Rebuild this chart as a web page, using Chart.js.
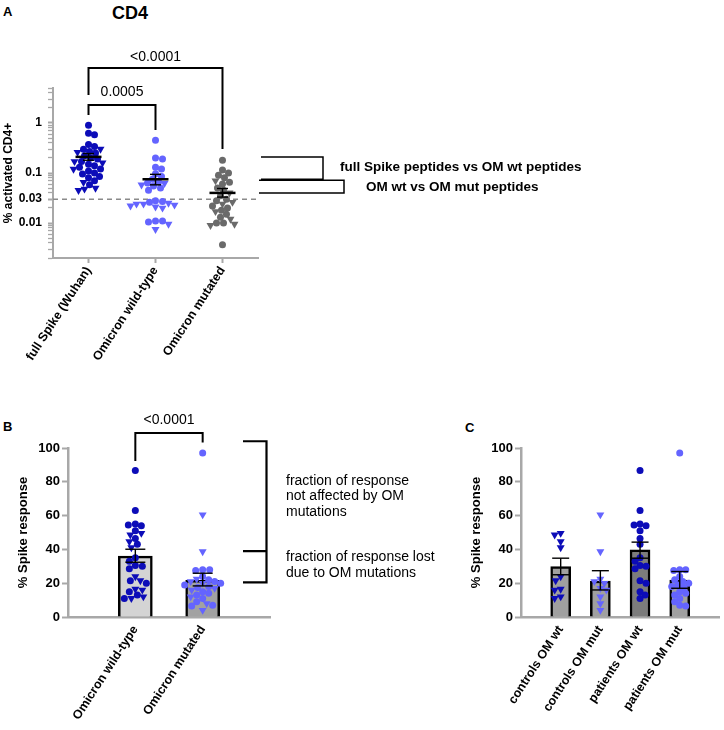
<!DOCTYPE html>
<html>
<head>
<meta charset="utf-8">
<script src="https://cdn.jsdelivr.net/npm/chart.js@4/dist/chart.umd.min.js"></script>
<style>
  body { margin: 0; background: #fff; width: 724px; height: 730px; position: relative; overflow: hidden;
         font-family: 'Liberation Sans', Arial, sans-serif; }
  canvas { position: absolute; }
  .lbl { position: absolute; font-weight: bold; line-height: 1; }
</style>
</head>
<body>
<div class="lbl" style="left:3px;top:5px;font-size:13px">A</div>
<div class="lbl" style="left:112px;top:4px;font-size:18px">CD4</div>
<div class="lbl" style="left:3px;top:420px;font-size:13px">B</div>
<div class="lbl" style="left:465px;top:421px;font-size:13px">C</div>
<canvas id="chartA" width="600" height="400" style="left:0;top:0"></canvas>
<canvas id="chartB" width="440" height="330" style="left:0;top:400px"></canvas>
<canvas id="chartC" width="284" height="330" style="left:440px;top:400px"></canvas>
<script>
// ---- panel A : % activated CD4+ (log scale) ----
const A_categories = ['full Spike (Wuhan)', 'Omicron wild-type', 'Omicron mutated'];
const A_spikeCircles = [0.9, 0.62, 0.58, 0.37, 0.34, 0.3, 0.27, 0.25, 0.22, 0.2, 0.19, 0.17, 0.15, 0.14, 0.13, 0.12, 0.11, 0.1, 0.095, 0.085, 0.08, 0.07, 0.058];
const A_spikeTriangles = [0.3, 0.26, 0.17, 0.16, 0.12, 0.065, 0.05, 0.048, 0.045];
const A_wtCircles = [0.45, 0.2, 0.19, 0.13, 0.12, 0.097, 0.085, 0.075, 0.066, 0.063, 0.055, 0.05, 0.045, 0.028, 0.027, 0.026, 0.011, 0.011, 0.0105];
const A_wtTriangles = [0.062, 0.058, 0.025, 0.024, 0.024, 0.023, 0.022, 0.021, 0.02, 0.0095, 0.0075];
const A_mutCircles = [0.18, 0.115, 0.1, 0.09, 0.08, 0.065, 0.06, 0.05, 0.045, 0.035, 0.03, 0.028, 0.022, 0.02, 0.018, 0.015, 0.013, 0.01, 0.01, 0.0037];
const A_mutTriangles = [0.07, 0.04, 0.026, 0.024, 0.017, 0.012, 0.0095, 0.009];
const A_means = [0.21, 0.075, 0.04];
const A_semLow = [0.18, 0.058, 0.033];
const A_semHigh = [0.245, 0.094, 0.049];
const A_tickLabels = [0.01, 0.03, 0.1, 1];
const A_threshold = 0.03;
const A_pValues = ['0.0005', '<0.0001'];
const A_legend = ['full Spike peptides vs OM wt peptides', 'OM wt vs OM mut peptides'];

// ---- panels B and C : % Spike response ----
const B_categories = ['Omicron wild-type', 'Omicron mutated'];
const C_categories = ['controls OM wt', 'controls OM mut', 'patients OM wt', 'patients OM mut'];
const ctrlWt = [49.6, 48.6, 44.6, 41.1, 23.9, 21.5, 16.5, 16, 12, 11];           // triangles
const patWt = [86.7, 63, 55, 54.5, 54, 51, 46.5, 43, 35, 33, 30.5, 30, 28.5, 21.5, 20, 15, 13, 11]; // circles
const ctrlMut = [60.5, 38.7, 22.5, 21, 20, 17, 16, 12, 8, 4];
const patMut = [97, 28, 28, 27.5, 24, 22, 21, 20, 19, 18, 17.5, 15, 14, 13, 11, 9, 7, 6.5];
const B_means = [36, 21.7];
const B_semLow = [32.4, 18.4];
const B_semHigh = [40.1, 25.9];
const B_pValue = '<0.0001';
const B_fractionLevels = [104, 39, 20.5];
const B_notes = [['fraction of response', 'not affected by OM', 'mutations'], ['fraction of response lost', 'due to OM mutations']];
const C_means = [29.8, 21.3, 39.7, 21.9];
const C_semLow = [25, 16, 34.8, 17];
const C_semHigh = [34.8, 27.4, 44.3, 26.9];

const DARK = '#0c0cb8', LIGHT = '#6464ff', GREY = '#6a6a6a', AXIS = '#a8a8a8';
const FONT = "'Liberation Sans', Arial, sans-serif";

Chart.defaults.font.family = FONT;
Chart.defaults.color = '#000';
Chart.defaults.animation = false;
Chart.defaults.plugins.legend.display = false;
Chart.defaults.plugins.tooltip.enabled = false;

function pts(values, x) { return values.map(v => ({ x: x, y: v })); }

function scatterSet(values, x, color, shape) {
  return {
    type: 'scatter', data: pts(values, x), backgroundColor: color, borderWidth: 0,
    pointStyle: shape === 't' ? 'triangle' : 'circle',
    pointRotation: shape === 't' ? 180 : 0,
    pointRadius: shape === 't' ? 4.6 : 3.5, order: 0
  };
}

// spread points of one column sideways so they do not sit on top of each other
function swarm(chart, sets, center, radius) {
  const xs = chart.scales.x, ys = chart.scales.y;
  const unit = xs.getPixelForValue(1) - xs.getPixelForValue(0);
  const minD = 2 * radius * 0.85;
  const all = [];
  sets.forEach(ds => ds.data.forEach(p => all.push({ p, py: ys.getPixelForValue(p.y) })));
  all.sort((a, b) => a.py - b.py);
  const placed = [];
  all.forEach((o, k) => {
    let dx = 0;
    for (let s = 0; s < 400; s++) {
      const c = s === 0 ? 0 : ((s + k) % 2 ? 1 : -1) * Math.ceil(s / 2);
      if (placed.every(q => (q.dx - c) ** 2 + (q.py - o.py) ** 2 >= minD * minD)) { dx = c; break; }
    }
    placed.push({ dx, py: o.py });
    o.p.x = center + dx / unit;
  });
}

function line(ctx, x1, y1, x2, y2) { ctx.beginPath(); ctx.moveTo(x1, y1); ctx.lineTo(x2, y2); ctx.stroke(); }

function whiskers(chart, centers, means, lo, hi, cap, meanW, meanLw) {
  const { ctx, scales: { x, y } } = chart;
  ctx.save();
  ctx.strokeStyle = '#000';
  means.forEach((m, i) => {
    const cx = x.getPixelForValue(centers[i]);
    ctx.lineWidth = 1.4;
    line(ctx, cx, y.getPixelForValue(lo[i]), cx, y.getPixelForValue(hi[i]));
    line(ctx, cx - cap / 2, y.getPixelForValue(lo[i]), cx + cap / 2, y.getPixelForValue(lo[i]));
    line(ctx, cx - cap / 2, y.getPixelForValue(hi[i]), cx + cap / 2, y.getPixelForValue(hi[i]));
    if (meanW) {
      ctx.lineWidth = meanLw;
      line(ctx, cx - meanW / 2, y.getPixelForValue(m), cx + meanW / 2, y.getPixelForValue(m));
    }
  });
  ctx.restore();
}

function bracket(ctx, x1, x2, yTop, y1, y2) {
  ctx.beginPath();
  ctx.moveTo(x1, y1); ctx.lineTo(x1, yTop); ctx.lineTo(x2, yTop); ctx.lineTo(x2, y2);
  ctx.stroke();
}

// ================= chart A =================
const aOverlay = {
  id: 'aOverlay',
  beforeDatasetsDraw(chart) {
    const { ctx, chartArea, scales: { y } } = chart;
    const py = y.getPixelForValue(A_threshold);
    ctx.save();
    ctx.strokeStyle = '#8a8a8a'; ctx.lineWidth = 1.5; ctx.setLineDash([5, 4]);
    line(ctx, chartArea.left, py, chartArea.right, py);
    ctx.restore();
  },
  afterDatasetsDraw(chart) {
    whiskers(chart, [0, 1, 2], A_means, A_semLow, A_semHigh, 11, 26, 2.5);
    const { ctx, chartArea, scales: { x, y } } = chart;
    const t = chartArea.top, r = chartArea.right;
    const x0 = x.getPixelForValue(0), x1 = x.getPixelForValue(1), x2 = x.getPixelForValue(2);
    ctx.save();
    ctx.strokeStyle = '#000'; ctx.lineWidth = 2;
    bracket(ctx, x0, x1, t + 17, t + 27, t + 42);
    bracket(ctx, x0, x2, t - 20, t + 7, t + 61);
    ctx.fillStyle = '#000'; ctx.textAlign = 'center'; ctx.textBaseline = 'middle';
    ctx.font = '14px ' + FONT;
    ctx.fillText(A_pValues[0], (x0 + x1) / 2, t + 4);
    ctx.fillText(A_pValues[1], (x0 + x2) / 2, t - 31);
    // comparison brackets at the group means
    const m = A_means.map(v => y.getPixelForValue(v));
    ctx.lineWidth = 1.5;
    ctx.beginPath();
    ctx.moveTo(r + 3, m[0]); ctx.lineTo(r + 65, m[0]); ctx.lineTo(r + 65, m[1]); ctx.lineTo(r + 3, m[1]);
    ctx.moveTo(r + 1, m[1] + 1); ctx.lineTo(r + 86, m[1] + 1); ctx.lineTo(r + 86, m[2]); ctx.lineTo(r + 1, m[2]);
    ctx.stroke();
    ctx.textAlign = 'left';
    ctx.font = 'bold 13.5px ' + FONT;
    ctx.fillText(A_legend[0], r + 82, (m[0] + m[1]) / 2 - 1);
    ctx.fillText(A_legend[1], r + 108, (m[1] + m[2]) / 2 + 1);
    ctx.restore();
  }
};

function logTicks(min, max) {
  const out = [];
  for (let d = 0.001; d <= 10; d *= 10) {
    for (let k = 1; k <= 9; k++) {
      const v = +(k * d).toPrecision(3);
      if (v >= min && v <= max) out.push({ value: v });
    }
  }
  return out;
}

const chartA = new Chart(document.getElementById('chartA'), {
  type: 'scatter',
  data: {
    datasets: [
      scatterSet(A_spikeCircles, 0, DARK, 'c'), scatterSet(A_spikeTriangles, 0, DARK, 't'),
      scatterSet(A_wtCircles, 1, LIGHT, 'c'), scatterSet(A_wtTriangles, 1, LIGHT, 't'),
      scatterSet(A_mutCircles, 2, GREY, 'c'), scatterSet(A_mutTriangles, 2, GREY, 't')
    ]
  },
  options: {
    responsive: false, devicePixelRatio: 1,
    layout: { padding: { left: 0, top: 88, right: 342, bottom: 0 } },
    scales: {
      x: {
        type: 'linear', min: -0.53, max: 2.53, offset: false,
        afterBuildTicks: s => { s.ticks = A_categories.map((_, i) => ({ value: i })); },
        afterFit: s => { s.height = 142; },
        ticks: { callback: v => A_categories[v], font: { size: 12.5, weight: 'bold' },
                 minRotation: 57, maxRotation: 57, autoSkip: false, padding: 1 },
        grid: { drawOnChartArea: false, tickLength: 5, tickColor: AXIS, tickWidth: 2 },
        border: { color: AXIS, width: 2 }
      },
      y: {
        type: 'logarithmic', min: 0.002, max: 5,
        afterBuildTicks: s => { s.ticks = logTicks(0.002, 5); },
        afterFit: s => { s.width = 53; },
        ticks: { callback: v => (A_tickLabels.includes(v) ? String(v) : ''),
                 font: { size: 12, weight: 'bold' }, padding: 6, autoSkip: false },
        grid: { drawOnChartArea: false, tickLength: 5, tickColor: AXIS,
                tickWidth: c => (A_tickLabels.includes(c.tick.value) ? 2 : 1.3) },
        border: { color: AXIS, width: 2 },
        title: { display: true, text: '% activated CD4+', font: { size: 12, weight: 'bold' },
                 padding: { top: 1, bottom: 0 } }
      }
    }
  },
  plugins: [aOverlay]
});
swarm(chartA, chartA.data.datasets.slice(0, 2), 0, 3.6);
swarm(chartA, chartA.data.datasets.slice(2, 4), 1, 3.6);
swarm(chartA, chartA.data.datasets.slice(4, 6), 2, 3.6);
chartA.update('none');

// ================= chart B =================
const bOverlay = {
  id: 'bOverlay',
  afterDatasetsDraw(chart) {
    whiskers(chart, [1, 2], B_means, B_semLow, B_semHigh, 20, 0, 0);
    const { ctx, chartArea, scales: { x, y } } = chart;
    const t = chartArea.top;
    const x1 = x.getPixelForValue(1), x2 = x.getPixelForValue(2);
    ctx.save();
    ctx.strokeStyle = '#000'; ctx.lineWidth = 2;
    bracket(ctx, x1, x2, t - 15, t + 13, t - 5.5);
    ctx.fillStyle = '#000'; ctx.textAlign = 'center'; ctx.textBaseline = 'middle';
    ctx.font = '14px ' + FONT;
    ctx.fillText(B_pValue, (x1 + x2) / 2, t - 27.5);
    // fraction bracket
    const lv = B_fractionLevels.map(v => y.getPixelForValue(v));
    const bx1 = 243, bx2 = 266.5;
    ctx.lineWidth = 2.2;
    ctx.beginPath();
    ctx.moveTo(bx1, lv[0]); ctx.lineTo(bx2, lv[0]); ctx.lineTo(bx2, lv[2]); ctx.lineTo(bx1, lv[2]);
    ctx.moveTo(bx1, lv[1]); ctx.lineTo(bx2, lv[1]);
    ctx.stroke();
    ctx.textAlign = 'left';
    ctx.font = '14px ' + FONT;
    B_notes[0].forEach((s, i) => ctx.fillText(s, 286, 81 + i * 15.5));
    B_notes[1].forEach((s, i) => ctx.fillText(s, 286, 157.5 + i * 16));
    ctx.restore();
  }
};

const spikeY = {
  min: 0, max: 100,
  ticks: { stepSize: 20, font: { size: 13, weight: 'bold' }, padding: 2 },
  grid: { drawOnChartArea: false, tickLength: 6, tickColor: AXIS, tickWidth: 2 },
  border: { color: AXIS, width: 2.5 },
  title: { display: true, text: '% Spike response', font: { size: 13, weight: 'bold' } }
};

function catX(labels, max) {
  return {
    type: 'linear', min: 0, max: max, offset: false,
    afterBuildTicks: s => { s.ticks = labels.map((_, i) => ({ value: i + 1 })); },
    afterFit: s => { s.height = 113; },
    ticks: { callback: v => labels[v - 1], font: { size: 12.5, weight: 'bold' },
             minRotation: 57, maxRotation: 57, autoSkip: false, padding: 6 },
    grid: { drawOnChartArea: false, drawTicks: false, offset: false },
    border: { color: AXIS, width: 2.5 }
  };
}

const chartB = new Chart(document.getElementById('chartB'), {
  type: 'bar',
  data: {
    datasets: [
      scatterSet(ctrlWt, 1, DARK, 't'), scatterSet(patWt, 1, DARK, 'c'),
      scatterSet(ctrlMut, 2, LIGHT, 't'), scatterSet(patMut, 2, LIGHT, 'c'),
      { type: 'bar', data: B_means.map((v, i) => ({ x: i + 1, y: v })),
        backgroundColor: ['#d4d4d4', '#a2a2a2'], borderColor: '#000', borderWidth: 2.5,
        barThickness: 34, order: 5 }
    ]
  },
  options: {
    responsive: false, devicePixelRatio: 1,
    layout: { padding: { left: 0, top: 48, right: 170, bottom: 0 } },
    scales: {
      x: catX(B_categories, 3),
      y: Object.assign({}, spikeY, { afterFit: s => { s.width = 68; },
        title: Object.assign({}, spikeY.title, { padding: { top: 16, bottom: 0 } }) })
    }
  },
  plugins: [bOverlay]
});
swarm(chartB, chartB.data.datasets.slice(0, 2), 1, 3.6);
swarm(chartB, chartB.data.datasets.slice(2, 4), 2, 3.6);
chartB.update('none');

// ================= chart C =================
const cOverlay = {
  id: 'cOverlay',
  afterDatasetsDraw(chart) { whiskers(chart, [1, 2, 3, 4], C_means, C_semLow, C_semHigh, 17, 0, 0); }
};

const chartC = new Chart(document.getElementById('chartC'), {
  type: 'bar',
  data: {
    datasets: [
      scatterSet(ctrlWt, 1, DARK, 't'), scatterSet(ctrlMut, 2, LIGHT, 't'),
      scatterSet(patWt, 3, DARK, 'c'), scatterSet(patMut, 4, LIGHT, 'c'),
      { type: 'bar', data: C_means.map((v, i) => ({ x: i + 1, y: v })),
        backgroundColor: ['#a0a0a0', '#a0a0a0', '#7c7c7c', '#a0a0a0'], borderColor: '#000', borderWidth: 2.5,
        barThickness: 20, order: 5 }
    ]
  },
  options: {
    responsive: false, devicePixelRatio: 1,
    layout: { padding: { left: 0, top: 48, right: 2, bottom: 0 } },
    scales: {
      x: catX(C_categories, 5),
      y: Object.assign({}, spikeY, { afterFit: s => { s.width = 81; },
        title: Object.assign({}, spikeY.title, { padding: { top: 29, bottom: 0 } }) })
    }
  },
  plugins: [cOverlay]
});
chartC.data.datasets.slice(0, 4).forEach((ds, i) => swarm(chartC, [ds], i + 1, 3.4));
chartC.update('none');
</script>
</body>
</html>
